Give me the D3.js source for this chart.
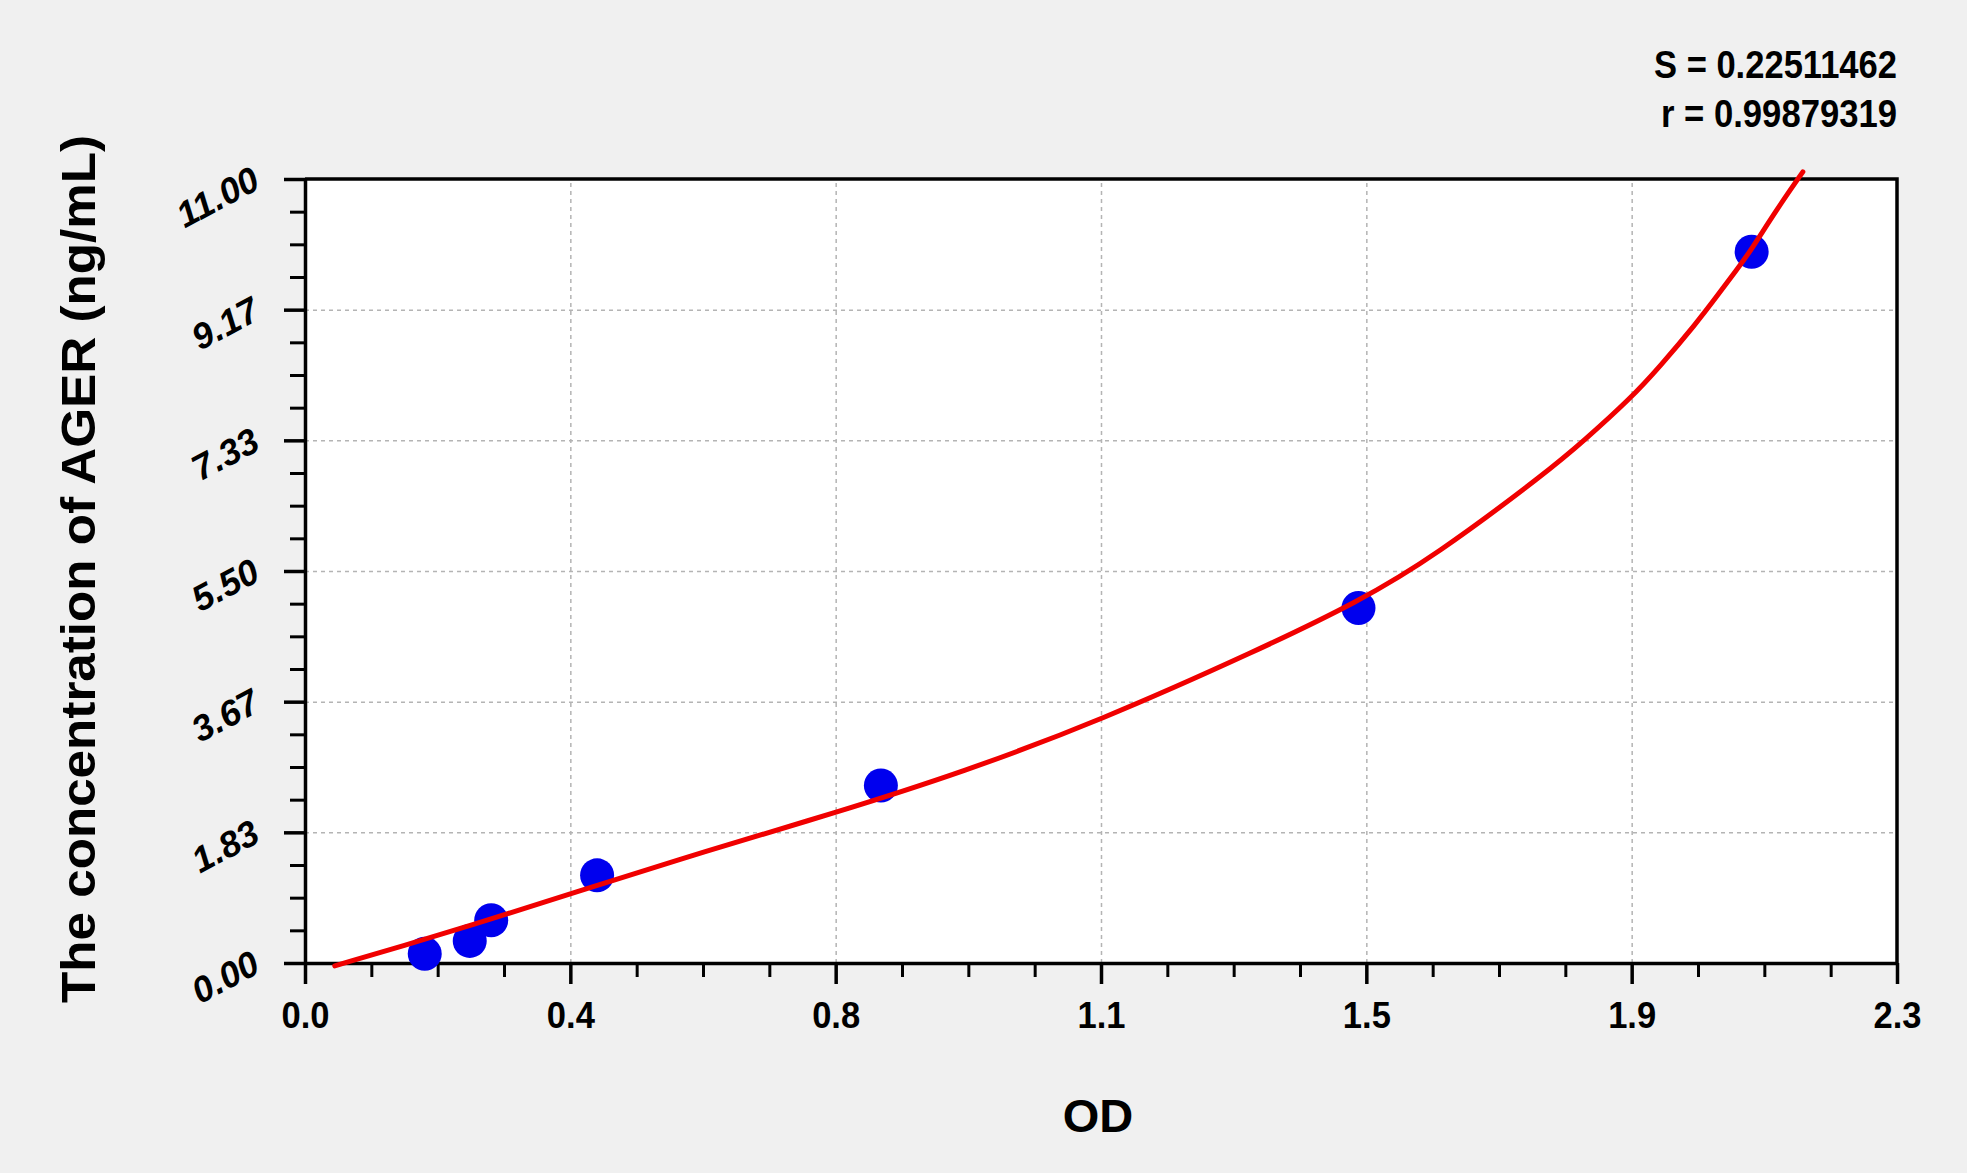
<!DOCTYPE html>
<html>

<head>
  <meta charset="utf-8">
  <title>AGER standard curve</title>
  <style>
    body {
      margin: 0;
      background: #f0f0f0;
      font-family: Arial, "Liberation Sans", sans-serif;
    }

    svg {
      display: block;
    }

    .grid line {
      stroke: #b4b4b4;
      stroke-width: 1.5px;
      stroke-dasharray: 4 4;
    }

    .grid path {
      display: none;
    }

    .axis path,
    .axis line {
      stroke: #000;
      stroke-width: 3.5px;
    }

    .minor line {
      stroke: #000;
      stroke-width: 3px;
    }

    .minor path {
      display: none;
    }
  </style>
</head>

<body>
  <svg class="chart" width="1967" height="1173"></svg>

  <script src="https://cdn.jsdelivr.net/npm/d3@7"></script>
  <script>
    // standards: OD (ng/mL)
    var pointOD = [0.173, 0.238, 0.269, 0.422, 0.832, 1.522, 2.090];
    var pointConc = [0.13, 0.31, 0.60, 1.23, 2.49, 4.98, 9.98];

    // fitted curve
    var fitOD = [0.043, 0.173, 0.269, 0.3775, 0.582, 0.764, 0.951, 1.1485, 1.377, 1.522, 1.631, 1.7986, 1.8467, 1.915, 1.9575, 2.0105, 2.0394, 2.068, 2.0876, 2.126, 2.164];
    var fitConc = [-0.04, 0.33, 0.62, 0.95, 1.58, 2.10, 2.68, 3.40, 4.39, 5.07, 5.70, 6.92, 7.32, 7.92, 8.37, 8.98, 9.35, 9.72, 9.98, 10.57, 11.10];

    var xTicks = [0, 0.38333, 0.76667, 1.15, 1.53333, 1.91667, 2.3];
    var xTickLabels = ['0.0', '0.4', '0.8', '1.1', '1.5', '1.9', '2.3'];
    var yTicks = [0, 1.83333, 3.66667, 5.5, 7.33333, 9.16667, 11];
    var yTickLabels = ['0.00', '1.83', '3.67', '5.50', '7.33', '9.17', '11.00'];

    var statLines = ['S = 0.22511462', 'r = 0.99879319'];

    drawChart();

    function drawChart() {
      var svg = d3.select('svg.chart');
      var plotLeft = 305, plotRight = 1897, plotTop = 179, plotBottom = 963;
      var width = plotRight - plotLeft;
      var height = plotBottom - plotTop;

      var x = d3.scaleLinear().domain([0, 2.3]).range([plotLeft, plotRight]);
      var y = d3.scaleLinear().domain([0, 11]).range([plotBottom, plotTop]);

      // 3 minor ticks between each pair of majors
      function minorsOf(ticks) {
        var out = [];
        for (var i = 0; i < ticks.length - 1; i++) {
          var step = (ticks[i + 1] - ticks[i]) / 4;
          for (var k = 1; k < 4; k++) out.push(ticks[i] + k * step);
        }
        return out;
      }

      svg.append('rect')
        .attr('x', plotLeft)
        .attr('y', plotTop)
        .attr('width', width)
        .attr('height', height)
        .attr('fill', '#fff');

      // grid
      svg.append('g')
        .attr('class', 'grid')
        .attr('transform', 'translate(0,' + plotBottom + ')')
        .call(d3.axisBottom(x).tickValues(xTicks.slice(1, -1)).tickSize(-height).tickFormat(''));

      svg.append('g')
        .attr('class', 'grid')
        .attr('transform', 'translate(' + plotLeft + ',0)')
        .call(d3.axisLeft(y).tickValues(yTicks.slice(1, -1)).tickSize(-width).tickFormat(''));

      // minor ticks
      svg.append('g')
        .attr('class', 'minor')
        .attr('transform', 'translate(0,' + plotBottom + ')')
        .call(d3.axisBottom(x).tickValues(minorsOf(xTicks)).tickSize(14).tickFormat(''));

      svg.append('g')
        .attr('class', 'minor')
        .attr('transform', 'translate(' + plotLeft + ',0)')
        .call(d3.axisLeft(y).tickValues(minorsOf(yTicks)).tickSize(15).tickFormat(''));

      // major axes
      var xAxis = svg.append('g')
        .attr('class', 'axis')
        .attr('transform', 'translate(0,' + plotBottom + ')')
        .call(d3.axisBottom(x).tickValues(xTicks).tickSize(21).tickSizeOuter(0)
          .tickFormat(function(d, i) { return xTickLabels[i]; }));

      xAxis.selectAll('text')
        .attr('y', 65)
        .attr('dy', null)
        .attr('fill', '#000')
        .attr('textLength', 48)
        .attr('lengthAdjust', 'spacingAndGlyphs')
        .style('font-size', '37px')
        .style('font-weight', 'bold')
        .style('font-family', 'Arial, "Liberation Sans", sans-serif');

      var yAxis = svg.append('g')
        .attr('class', 'axis')
        .attr('transform', 'translate(' + plotLeft + ',0)')
        .call(d3.axisLeft(y).tickValues(yTicks).tickSize(21).tickSizeOuter(0)
          .tickFormat(function(d, i) { return yTickLabels[i]; }));

      yAxis.selectAll('text')
        .attr('x', null)
        .attr('dy', null)
        .attr('text-anchor', 'end')
        .attr('transform', 'translate(-43,8) rotate(-28)')
        .attr('fill', '#000')
        .style('font-size', '36px')
        .style('font-weight', 'bold')
        .style('font-style', 'italic')
        .style('font-family', 'Arial, "Liberation Sans", sans-serif');

      // top and right frame
      svg.append('path')
        .attr('d', 'M' + plotLeft + ',' + plotTop + 'H' + plotRight + 'V' + plotBottom)
        .attr('fill', 'none')
        .attr('stroke', '#000')
        .attr('stroke-width', 3.5);

      // standards
      svg.append('g')
        .selectAll('circle')
        .data(pointOD)
        .enter().append('circle')
        .attr('cx', function(d) { return x(d); })
        .attr('cy', function(d, i) { return y(pointConc[i]); })
        .attr('r', 17)
        .attr('fill', '#0000ee');

      // fitted curve
      var line = d3.line()
        .x(function(d) { return x(d); })
        .y(function(d, i) { return y(fitConc[i]); })
        .curve(d3.curveBasis);

      svg.append('path')
        .datum(fitOD)
        .attr('d', line)
        .attr('fill', 'none')
        .attr('stroke', '#f00000')
        .attr('stroke-width', 5)
        .attr('stroke-linecap', 'round');

      // titles
      svg.append('text')
        .attr('x', 1098)
        .attr('y', 1132)
        .attr('text-anchor', 'middle')
        .style('font-size', '47px')
        .style('font-weight', 'bold')
        .text('OD');

      svg.append('text')
        .attr('transform', 'translate(95,569) rotate(-90)')
        .attr('text-anchor', 'middle')
        .attr('textLength', 868)
        .attr('lengthAdjust', 'spacingAndGlyphs')
        .style('font-size', '48px')
        .style('font-weight', 'bold')
        .text('The concentration of AGER (ng/mL)');

      svg.selectAll('text.stat')
        .data(statLines)
        .enter().append('text')
        .attr('class', 'stat')
        .attr('x', 1897)
        .attr('y', function(d, i) { return 78 + i * 49; })
        .attr('text-anchor', 'end')
        .attr('textLength', function(d, i) { return i === 0 ? 243 : 236; })
        .attr('lengthAdjust', 'spacingAndGlyphs')
        .style('font-size', '38px')
        .style('font-weight', 'bold')
        .text(function(d) { return d; });
    }
  </script>
</body>

</html>
